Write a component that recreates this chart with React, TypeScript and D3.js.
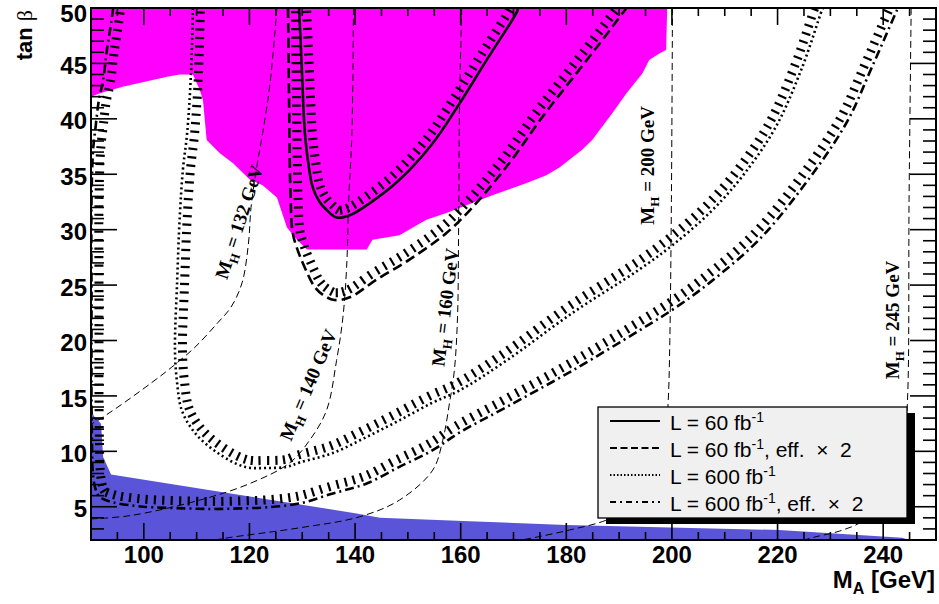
import React, { useEffect, useRef } from 'react';
import * as d3 from 'd3';

type Pt = [number, number];

// axis ranges and labelled ticks
const xRange = [90, 250];
const yRange = [2, 50];
const xLabelTicks = [100, 120, 140, 160, 180, 200, 220, 240];
const yLabelTicks = [5, 10, 15, 20, 25, 30, 35, 40, 45, 50];

// excluded regions (M_A, tan beta)
const pinkArea: Pt[] = [
  [90, 50], [90, 42.0], [91.7, 42.3], [96.0, 42.9], [104.4, 43.8], [106.8, 44.0], [109.3, 44.0],
  [110.6, 42.6], [111.2, 41.7], [111.9, 38.1], [114.4, 36.9], [116.9, 36.0], [120.1, 34.5],
  [122.5, 34.0], [125.2, 32.9], [127.1, 30.2], [129.0, 29.1], [130.9, 28.2], [142.2, 28.2],
  [143.3, 29.1], [148.4, 29.5], [153.5, 30.9], [157.3, 31.5], [166.0, 33.1], [172.5, 34.2],
  [176.2, 34.9], [178.7, 35.6], [183.0, 37.2], [184.9, 38.1], [188.7, 40.5], [191.4, 42.3],
  [194.4, 44.1], [195.7, 45.3], [197.6, 45.9], [198.9, 46.2], [199.1, 50]
];
const blueArea: Pt[] = [
  [90, 2], [90, 14.0], [90.5, 13.2], [91.9, 12.5], [92.3, 9.5], [93.8, 7.9], [140.3, 4.4],
  [144.7, 4.0], [161.7, 3.7], [180.0, 3.35], [220.3, 2.9], [243.6, 2.2], [244.9, 2.0]
];

// M_H iso-mass lines
const mh132: Pt[] = [
  [125.2, 50], [123.9, 43.2], [122.5, 38.7], [121.4, 35.7], [120.3, 32.0], [119.8, 28.7],
  [118.6, 25.2], [116.5, 23.0], [114.0, 21.6], [109.7, 19.4], [105.3, 17.6], [101.5, 16.2],
  [95.1, 14.0], [91.3, 12.8], [90, 12.45]
];
const mh140: Pt[] = [
  [139.7, 50], [139.4, 38.7], [138.8, 32.7], [138.4, 26.6], [137.7, 22.1], [136.5, 18.2],
  [134.6, 13.7], [131.4, 11.0], [127.6, 8.95], [120.1, 7.1], [110.6, 5.6], [97.4, 4.2], [90, 3.9]
];
const mh160: Pt[] = [
  [160.2, 50], [159.8, 41.7], [159.6, 29.7], [159.4, 22.1], [158.8, 17.3], [157.9, 14.4],
  [156.6, 11.0], [154.7, 8.3], [148.4, 5.6], [140.9, 4.1], [129.5, 3.1], [115.9, 2.2], [113.5, 2.0]
];
const mh200: Pt[] = [
  [200.1, 50], [199.9, 32.7], [199.6, 20], [199.3, 14.6], [198.6, 10], [196.5, 7], [192, 5],
  [187.6, 3.8], [180.6, 2.9], [175.3, 2.35], [171.5, 2.0]
];
const mh245: Pt[] = [
  [245.3, 50], [244.9, 32.7], [244.6, 14.6], [243.8, 10], [241.5, 6.5], [236.4, 3.8],
  [231.7, 2.8], [227.3, 2.3], [225.0, 2.0]
];
const mhMasses = [132, 140, 160, 200, 245];
const mhLabelX = [118.0, 131.1, 157.0, 195.3, 241.7];
const mhLabelY = [30.7, 16.0, 23.0, 35.8, 21.85];
const mhLabelAngle = [-72, -67, -83, -90, -90];

// 5 sigma discovery contours
const lumi60: Pt[] = [
  [129.4, 50], [129.9, 44.7], [130.5, 38.7], [131.2, 35.8], [132.0, 33.8], [133.3, 32.5],
  [134.6, 31.8], [136.5, 31.1], [139.0, 31.3], [142.8, 32.4], [148.4, 34.5], [154.7, 37.8],
  [159.8, 41.4], [164.9, 45.3], [170.6, 49.6], [170.9, 50]
];
const lumi60eff: Pt[] = [
  [127.3, 50], [127.5, 41.7], [127.8, 32.7], [128.2, 29.7], [129.1, 28.2], [130.1, 27.0],
  [132.4, 24.8], [134.3, 24.0], [136.1, 23.65], [139.0, 23.9], [144.1, 25.5], [150.3, 27.3],
  [157.3, 29.7], [162.2, 32.0], [169.2, 36.0], [175.5, 40.2], [181.9, 44.1], [186.8, 47.1],
  [190.6, 49.5], [191.4, 50]
];
const lumi600: Pt[] = [
  [109.3, 50], [108.9, 43.8], [108.2, 38.7], [107.4, 35.4], [106.8, 31.1], [106.3, 25.2],
  [105.9, 19.1], [106.3, 16.2], [107.2, 13.7], [109.7, 11.65], [114.0, 9.85], [119.1, 8.6],
  [123.3, 8.5], [127.1, 8.6], [129.5, 9.0], [135.8, 9.85], [142.2, 11.3], [148.4, 12.8],
  [154.7, 14.4], [159.8, 15.5], [168.7, 18.2], [181.2, 22.5], [193.8, 26.4], [200.1, 28.6],
  [207.1, 31.5], [213.3, 34.8], [219.7, 39.3], [224.7, 44.7], [228.4, 49.8], [228.6, 50]
];
const lumi600eff: Pt[] = [
  [94.2, 50], [93.6, 48.0], [93.0, 46.2], [92.3, 43.5], [91.5, 41.7], [90.9, 39.4], [90.4, 37.2],
  [90.1, 32.7], [90.1, 23.7], [90.1, 14.6], [90.2, 10.5], [90.3, 8.4], [90.8, 6.7], [91.6, 5.9],
  [94.2, 5.4], [98.0, 5.1], [101.7, 4.95], [108.0, 4.85], [113.1, 4.8], [118.2, 4.85],
  [123.3, 4.95], [129.5, 5.3], [135.8, 6.2], [142.2, 7.1], [148.4, 8.6], [154.7, 10.1],
  [159.8, 11.7], [168.7, 14.0], [181.2, 17.3], [193.8, 20.9], [200.8, 23.0], [207.1, 25.2],
  [216.5, 29.1], [224.7, 33.8], [233.0, 39.6], [237.9, 44.7], [242.6, 49.8], [242.8, 50]
];

// legend entries
const legendLumi = ['60', '60', '600', '600'];
const legendEff = [false, true, false, true];

const W = 939;
const H = 604;
const plot = { left: 91, right: 936, top: 8, bottom: 540 };

const lineDash = [null, '10,5', '2,3', '9,4,2,4'];
const legendDash = [null, '7,3.5', '1.5,2', '6,4,2,4'];

function App() {
  const ref = useRef<SVGSVGElement>(null);

  useEffect(() => {
    const svg = d3.select(ref.current);
    svg.selectAll('*').remove();

    const x = d3.scaleLinear().domain(xRange).range([plot.left, plot.right]);
    const y = d3.scaleLinear().domain(yRange).range([plot.bottom, plot.top]);

    svg.append('rect').attr('width', W).attr('height', H).attr('fill', '#fff');

    svg.append('defs').append('clipPath').attr('id', 'plotClip')
      .append('rect')
      .attr('x', plot.left).attr('y', plot.top)
      .attr('width', plot.right - plot.left).attr('height', plot.bottom - plot.top);

    const g = svg.append('g').attr('clip-path', 'url(#plotClip)');

    // filled regions
    const area = d3.line<Pt>().x(d => x(d[0])).y(d => y(d[1])).curve(d3.curveLinearClosed);
    g.append('path').attr('d', area(pinkArea)).attr('fill', '#ff00ff');
    g.append('path').attr('d', area(blueArea)).attr('fill', '#5a55d8');

    const smooth = d3.line<Pt>().x(d => x(d[0])).y(d => y(d[1])).curve(d3.curveCatmullRom.alpha(0.5));

    // M_H lines
    [mh132, mh140, mh160, mh200, mh245].forEach(pts => {
      g.append('path')
        .attr('d', smooth(pts))
        .attr('fill', 'none')
        .attr('stroke', '#000')
        .attr('stroke-width', 1)
        .attr('stroke-dasharray', '7,4');
    });

    // contours with hatching on the inner side
    const contours = [lumi60, lumi60eff, lumi600, lumi600eff];
    contours.forEach((pts, i) => {
      const path = g.append('path')
        .attr('d', smooth(pts))
        .attr('fill', 'none')
        .attr('stroke', '#000')
        .attr('stroke-width', 2.6);
      if (lineDash[i]) path.attr('stroke-dasharray', lineDash[i]);

      const node = path.node() as SVGPathElement;
      const total = node.getTotalLength();
      const step = 8.5;
      const offset = 3;
      const len = 9;
      for (let s = step / 2; s < total; s += step) {
        const p0 = node.getPointAtLength(Math.max(0, s - 1));
        const p1 = node.getPointAtLength(Math.min(total, s + 1));
        const p = node.getPointAtLength(s);
        let dx = p1.x - p0.x;
        let dy = p1.y - p0.y;
        const n = Math.hypot(dx, dy) || 1;
        dx /= n;
        dy /= n;
        const nx = dy;
        const ny = -dx;
        g.append('line')
          .attr('x1', p.x + nx * offset).attr('y1', p.y + ny * offset)
          .attr('x2', p.x + nx * (offset + len)).attr('y2', p.y + ny * (offset + len))
          .attr('stroke', '#000')
          .attr('stroke-width', 2.2);
      }
    });

    // M_H labels
    mhMasses.forEach((m, i) => {
      const t = svg.append('text')
        .attr('transform', `translate(${x(mhLabelX[i])},${y(mhLabelY[i])}) rotate(${mhLabelAngle[i]})`)
        .attr('text-anchor', 'middle')
        .attr('dy', '0.35em')
        .attr('font-family', '"Liberation Serif", "Times New Roman", serif')
        .attr('font-weight', 'bold')
        .attr('font-size', 19)
        .attr('fill', '#000');
      t.append('tspan').text('M');
      t.append('tspan').attr('font-size', 13).attr('dy', 5).text('H');
      t.append('tspan').attr('dy', -5).text(` = ${m} GeV`);
    });

    // frame and ticks
    const axes = svg.append('g').attr('stroke', '#000').attr('stroke-width', 1.6);
    d3.range(95, 250, 5).forEach(v => {
      const major = v % 20 === 0;
      const h = major ? 17 : 8;
      axes.append('line').attr('x1', x(v)).attr('x2', x(v)).attr('y1', plot.bottom).attr('y2', plot.bottom - h);
      axes.append('line').attr('x1', x(v)).attr('x2', x(v)).attr('y1', plot.top).attr('y2', plot.top + h);
    });
    d3.range(3, 50, 1).forEach(v => {
      const major = v % 5 === 0;
      const w = major ? 26 : 13;
      axes.append('line').attr('x1', plot.left).attr('x2', plot.left + w).attr('y1', y(v)).attr('y2', y(v));
      axes.append('line').attr('x1', plot.right).attr('x2', plot.right - w).attr('y1', y(v)).attr('y2', y(v));
    });
    svg.append('rect')
      .attr('x', plot.left).attr('y', plot.top)
      .attr('width', plot.right - plot.left).attr('height', plot.bottom - plot.top)
      .attr('fill', 'none').attr('stroke', '#000').attr('stroke-width', 2);

    const sans = '"Liberation Sans", Arial, Helvetica, sans-serif';
    xLabelTicks.forEach(v => {
      svg.append('text')
        .attr('x', x(v)).attr('y', 563)
        .attr('text-anchor', 'middle')
        .attr('font-family', sans).attr('font-weight', 'bold').attr('font-size', 24)
        .text(v);
    });
    yLabelTicks.forEach(v => {
      svg.append('text')
        .attr('x', 87).attr('y', Math.max(y(v) + 2, 13)).attr('dy', '0.36em')
        .attr('text-anchor', 'end')
        .attr('font-family', sans).attr('font-weight', 'bold').attr('font-size', 24)
        .text(v);
    });

    // axis titles
    const xt = svg.append('text')
      .attr('x', 935).attr('y', 588)
      .attr('text-anchor', 'end')
      .attr('font-family', sans).attr('font-weight', 'bold').attr('font-size', 24);
    xt.append('tspan').text('M');
    xt.append('tspan').attr('font-size', 16).attr('dy', 6).text('A');
    xt.append('tspan').attr('dy', -6).text(' [GeV]');

    const yt = svg.append('text')
      .attr('transform', 'translate(32,10) rotate(-90)')
      .attr('text-anchor', 'end')
      .attr('font-family', sans).attr('font-weight', 'bold').attr('font-size', 22);
    yt.append('tspan').text('tan ');
    yt.append('tspan').attr('font-family', '"Liberation Serif", serif').attr('font-weight', 'normal').text('β');

    // legend
    const lg = svg.append('g');
    lg.append('rect').attr('x', 606).attr('y', 413).attr('width', 309).attr('height', 111).attr('fill', '#000');
    lg.append('rect').attr('x', 598).attr('y', 407).attr('width', 309).attr('height', 111)
      .attr('fill', '#f0f0f0').attr('stroke', '#000').attr('stroke-width', 1.3);
    legendLumi.forEach((lumi, i) => {
      const ly = 421 + i * 27;
      const l = lg.append('line')
        .attr('x1', 610).attr('x2', 660).attr('y1', ly).attr('y2', ly)
        .attr('stroke', '#000').attr('stroke-width', 2);
      if (legendDash[i]) l.attr('stroke-dasharray', legendDash[i]);
      const t = lg.append('text')
        .attr('x', 670).attr('y', ly + 9)
        .attr('font-family', sans).attr('font-size', 21).attr('fill', '#000');
      t.append('tspan').text(`L = ${lumi} fb`);
      t.append('tspan').attr('font-size', 14).attr('dy', -8).text('-1');
      t.append('tspan').attr('dy', 8).text(legendEff[i] ? ', eff.\u00a0\u00a0\u00d7\u00a0\u00a02' : '');
    });
  }, []);

  return (
    <svg
      ref={ref}
      width={W}
      height={H}
      style={{ position: 'absolute', left: 0, top: 0 }}
    />
  );
}

export default App;
